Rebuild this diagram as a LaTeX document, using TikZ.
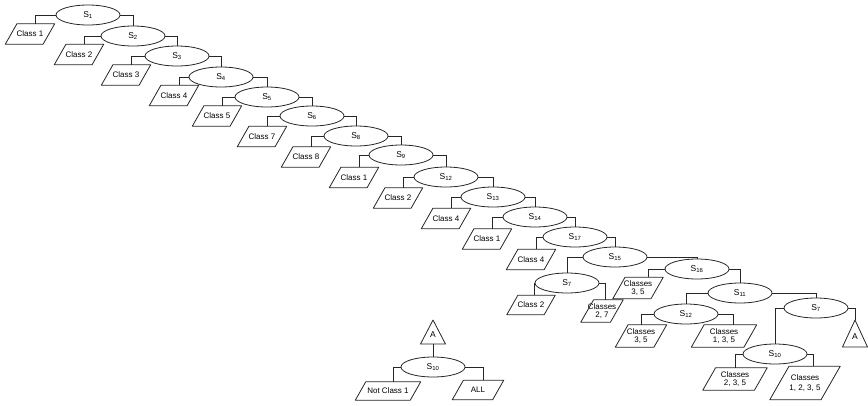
\documentclass[tikz,border=0pt]{standalone}
\usepackage{fontspec}
\setmainfont{Liberation Sans}
\usetikzlibrary{calc,shapes.geometric}
\tikzset{
  line/.style={draw=black!85, line width=0.8pt},
  svm/.style={ellipse, line, minimum width=64pt, minimum height=20pt, inner sep=0pt, font=\fontsize{8.5}{9}\selectfont},
  ptext/.style={inner sep=0pt, align=center, font=\fontsize{8}{8.6}\selectfont},
  atext/.style={inner sep=0pt, font=\fontsize{8.5}{9}\selectfont},
}
\newcommand\pbox[6]{%
  \node[ptext, minimum width=#4pt, minimum height=#5pt] (#1) at (#2,#3) {#6};
  \draw[line, line join=round] (#1.south west) -- ($(#1.south east)+(-0.58*#5,0)$) -- (#1.north east) -- ($(#1.north west)+(0.58*#5,0)$) -- cycle;
}
\newcommand\tribox[4]{% name, apex x, apex y, height
  \coordinate (#1) at (#2,#3);
  \draw[line, line join=round] (#1) -- ($(#1)+(12.5,#4)$) -- ($(#1)+(-12.5,#4)$) -- cycle;
  \node[atext] (#1t) at ($(#1)+(0,0.62*#4)$) {A};
}
\begin{document}
\begin{tikzpicture}[x=1pt,y=-1pt]
\useasboundingbox (0,0) rectangle (868,405);
% main chain
\node[svm] (s1)  at (88,15)  {S\textsubscript{1}};
\node[svm] (s2)  at (133,36) {S\textsubscript{2}};
\node[svm] (s3)  at (177,56) {S\textsubscript{3}};
\node[svm] (s4)  at (221,77) {S\textsubscript{4}};
\node[svm] (s5)  at (267,97) {S\textsubscript{5}};
\node[svm] (s6)  at (312,116) {S\textsubscript{6}};
\node[svm] (s8)  at (356,136) {S\textsubscript{8}};
\node[svm] (s9)  at (401,155) {S\textsubscript{9}};
\node[svm] (s12) at (446,177) {S\textsubscript{12}};
\node[svm] (s13) at (493,197) {S\textsubscript{13}};
\node[svm] (s14) at (535,217) {S\textsubscript{14}};
\node[svm] (s17) at (575,237) {S\textsubscript{17}};
\node[svm] (s15) at (615,257) {S\textsubscript{15}};
% class boxes of the chain
\pbox{c1}{30}{34}{49}{20}{Class 1}
\pbox{c2}{79}{54.5}{49}{20}{Class 2}
\pbox{c3}{126}{75}{49}{20}{Class 3}
\pbox{c4}{174}{95.5}{49}{20}{Class 4}
\pbox{c5}{217}{116}{49}{20}{Class 5}
\pbox{c7}{262}{136.5}{49}{20}{Class 7}
\pbox{c8}{306}{157}{49}{20}{Class 8}
\pbox{c1b}{354}{177.5}{49}{20}{Class 1}
\pbox{c2b}{398}{198}{49}{20}{Class 2}
\pbox{c4b}{446}{218.5}{49}{20}{Class 4}
\pbox{c1c}{487}{239}{49}{20}{Class 1}
\pbox{c4c}{531}{259.5}{49}{20}{Class 4}
% chain connectors
\foreach \a/\b in {s1/c1,s2/c2,s3/c3,s4/c4,s5/c5,s6/c7,s8/c8,s9/c1b,s12/c2b,s13/c4b,s14/c1c,s17/c4c}
  \draw[line] (\a.west) -| ([xshift=5pt]\b.north);
\foreach \a/\b in {s1/s2,s2/s3,s3/s4,s4/s5,s5/s6,s6/s8,s8/s9,s9/s12,s12/s13,s13/s14,s14/s17,s17/s15}
  \draw[line] (\a.east) -| (\b.north);
% lower right subtree
\node[svm] (s7a) at (567,283) {S\textsubscript{7}};
\node[svm] (s16) at (697,269) {S\textsubscript{16}};
\node[svm] (s11) at (740,293) {S\textsubscript{11}};
\node[svm] (s12b) at (686,314) {S\textsubscript{12}};
\node[svm] (s7b) at (816,308) {S\textsubscript{7}};
\node[svm] (s10b) at (775,354) {S\textsubscript{10}};
\pbox{c2d}{531}{305}{48}{19}{Class 2}
\pbox{c27}{602}{311}{42}{22}{Classes\\2, 7}
\pbox{c35a}{638}{288}{50}{21}{Classes\\3, 5}
\pbox{c35b}{641}{336}{51}{22}{Classes\\3, 5}
\pbox{c135}{724}{336}{65}{22}{Classes\\1, 3, 5}
\pbox{c235}{735}{379}{64}{22}{Classes\\2, 3, 5}
\pbox{c1235}{805}{383}{70}{33}{Classes\\[2pt]1, 2, 3, 5}
\tribox{ar}{855}{320}{27}
\draw[line] (s15.west) -| (s7a.north);
\draw[line] (s15.east) -| (s16.north);
\draw[line] (s7a.west) -- (s7a.west |- c2d.north);
\draw[line] (s7a.east) -| ([xshift=3pt]c27.north);
\draw[line] (s16.west) -| ([xshift=10pt]c35a.north);
\draw[line] (s16.east) -| (s11.north);
\draw[line] (s11.west) -| (s12b.north);
\draw[line] (s11.east) -| (s7b.north);
\draw[line] (s12b.west) -| (c35b.north);
\draw[line] (s12b.east) -| ([xshift=9pt]c135.north);
\draw[line] (s7b.west) -| (s10b.north);
\draw[line] (s7b.east) -| (ar);
\draw[line] (s10b.west) -| (c235.north);
\draw[line] (s10b.east) -| ([xshift=8pt]c1235.north);
% subtree A
\tribox{am}{433}{320}{24}
\node[svm] (s10a) at (433,367) {S\textsubscript{10}};
\pbox{nc1}{388}{391}{65}{18}{Not Class 1}
\pbox{all}{478}{390}{51}{19}{ALL}
\draw[line] ($(am)+(0,24)$) -- (s10a.north);
\draw[line] (s10a.west) -| ([xshift=5pt]nc1.north);
\draw[line] (s10a.east) -| ([xshift=5pt]all.north);
\end{tikzpicture}
\end{document}
